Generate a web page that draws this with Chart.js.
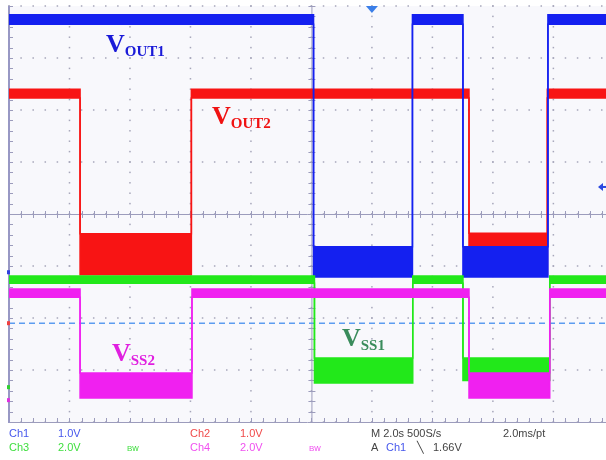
<!DOCTYPE html>
<html>
<head>
<meta charset="utf-8">
<script src="https://cdn.jsdelivr.net/npm/chart.js@4/dist/chart.umd.min.js"></script>
<style>
  html, body { margin: 0; padding: 0; background: #ffffff; }
  #wrap { position: relative; width: 606px; height: 460px; overflow: hidden; }
  canvas { position: absolute; left: 0; top: 0; }
  .lab { position: absolute; font-family: "Liberation Serif", "Times New Roman", serif; font-weight: bold; font-size: 26px; line-height: 26px; white-space: nowrap; }
  .lab .s { font-size: 15px; position: relative; top: 4px; }
  .ft { position: absolute; font-family: "Liberation Sans", Arial, sans-serif; font-size: 11px; line-height: 12px; white-space: nowrap; }
  .bw { font-size: 8px; }
</style>
</head>
<body>
<div id="wrap">
  <canvas id="c" width="606" height="460"></canvas>

  <div class="lab" style="left:106px; top:31px; color:#1a1ad8;">V<span class="s">OUT1</span></div>
  <div class="lab" style="left:212px; top:103px; color:#f01212;">V<span class="s">OUT2</span></div>
  <div class="lab" style="left:112px; top:340px; color:#e020e0;">V<span class="s">SS2</span></div>
  <div class="lab" style="left:342px; top:325px; color:#3a8c5c;">V<span class="s">SS1</span></div>

  <div class="ft" style="left:9px; top:427px; color:#4657ec;">Ch1</div>
  <div class="ft" style="left:58px; top:427px; color:#4657ec;">1.0V</div>
  <div class="ft" style="left:190px; top:427px; color:#f04a4a;">Ch2</div>
  <div class="ft" style="left:240px; top:427px; color:#f04a4a;">1.0V</div>
  <div class="ft" style="left:371px; top:427px; color:#444444;">M 2.0s 500S/s</div>
  <div class="ft" style="left:503px; top:427px; color:#444444;">2.0ms/pt</div>

  <div class="ft" style="left:9px; top:441px; color:#3ede3e;">Ch3</div>
  <div class="ft" style="left:58px; top:441px; color:#3ede3e;">2.0V</div>
  <div class="ft" style="left:127px; top:441px; color:#3ede3e;"><span class="bw">B</span><span class="bw" style="font-size:9px">w</span></div>
  <div class="ft" style="left:190px; top:441px; color:#f050f0;">Ch4</div>
  <div class="ft" style="left:240px; top:441px; color:#f050f0;">2.0V</div>
  <div class="ft" style="left:309px; top:441px; color:#f050f0;"><span class="bw">B</span><span class="bw" style="font-size:9px">w</span></div>
  <div class="ft" style="left:371px; top:441px; color:#444444;">A</div>
  <div class="ft" style="left:386px; top:441px; color:#4657ec;">Ch1</div>
  <div class="ft" style="left:417px; top:441px; color:#444444;">&#x2572;</div>
  <div class="ft" style="left:433px; top:441px; color:#444444;">1.66V</div>
</div>

<script>
// ---- Data (time in s at 2.0 s/div, level in screen divisions 0..8 from bottom) ----
const xMax = 19.74;           // visible time span
const divTime = 2;            // seconds per horizontal division
const yDivs = 8;              // vertical divisions

// Ch1 (blue, VOUT1)
const ch1Times = [0, 10.07, 10.07, 13.34, 13.34, 15.01, 15.01, 17.82, 17.82, 19.74];
const ch1Upper = [7.83, 7.83, 3.37, 3.37, 7.83, 7.83, 3.37, 3.37, 7.83, 7.83];
const ch1Lower = [7.65, 7.65, 2.79, 2.79, 7.65, 7.65, 2.79, 2.79, 7.65, 7.65];

// Ch2 (red, VOUT2)
const ch2Times = [0, 2.35, 2.35, 6.03, 6.03, 15.21, 15.21, 17.80, 17.80, 19.74];
const ch2Upper = [6.40, 6.40, 3.62, 3.62, 6.40, 6.40, 3.63, 3.63, 6.40, 6.40];
const ch2Lower = [6.23, 6.23, 2.83, 2.83, 6.23, 6.23, 2.83, 2.83, 6.23, 6.23];

// Ch3 (green, VSS1)
const ch3Times = [0, 10.10, 10.10, 13.35, 13.35, 15.01, 15.01, 17.88, 17.88, 19.74];
const ch3Upper = [2.81, 2.81, 1.23, 1.23, 2.81, 2.81, 1.23, 1.23, 2.81, 2.81];
const ch3Lower = [2.67, 2.67, 0.75, 0.75, 2.67, 2.67, 0.80, 0.80, 2.67, 2.67];

// Ch4 (magenta, VSS2)
const ch4Times = [0, 2.35, 2.35, 6.05, 6.05, 15.21, 15.21, 17.88, 17.88, 19.74];
const ch4Upper = [2.56, 2.56, 0.94, 0.94, 2.56, 2.56, 0.94, 0.94, 2.56, 2.56];
const ch4Lower = [2.40, 2.40, 0.46, 0.46, 2.40, 2.40, 0.46, 0.46, 2.40, 2.40];

// Trigger level cursor (dashed) and markers
const trigLevel = 1.90;
const trigTime = 12;
const ch1RefLevel = 4.52;
const groundMarks = [
  { level: 2.88, color: '#3040e0' },
  { level: 1.90, color: '#f04040' },
  { level: 0.67, color: '#30d030' },
  { level: 0.42, color: '#e030e0' }
];

const colors = { ch1: '#1420f0', ch2: '#f81414', ch3: '#22e81a', ch4: '#f020f0' };

function pts(times, vals) { return times.map((t, i) => ({ x: t, y: vals[i] })); }

function band(times, upper, lower, color, idx) {
  return [
    { data: pts(times, upper), borderColor: color, borderWidth: 1.5, pointRadius: 0, fill: false },
    { data: pts(times, lower), borderColor: color, backgroundColor: color, borderWidth: 1.5, pointRadius: 0, fill: idx }
  ];
}

const datasets = [
  ...band(ch4Times, ch4Upper, ch4Lower, colors.ch4, 0),
  ...band(ch3Times, ch3Upper, ch3Lower, colors.ch3, 2),
  ...band(ch1Times, ch1Upper, ch1Lower, colors.ch1, 4),
  ...band(ch2Times, ch2Upper, ch2Lower, colors.ch2, 6),
  { data: [{ x: 0, y: trigLevel }, { x: xMax, y: trigLevel }], borderColor: '#5c9cf0', borderWidth: 1.6,
    borderDash: [6, 4], pointRadius: 0, fill: false }
];

const scopeGrid = {
  id: 'scopeGrid',
  beforeDatasetsDraw(chart) {
    const { ctx, chartArea: a, scales: { x, y } } = chart;
    ctx.save();
    ctx.fillStyle = '#f8f8fc';
    ctx.fillRect(a.left, a.top, a.right - a.left, a.bottom - a.top);

    // dotted graticule
    ctx.fillStyle = '#a6a6ba';
    const nx = Math.floor(xMax / divTime);
    for (let i = 0; i <= nx; i++) {
      const px = x.getPixelForValue(i * divTime);
      for (let k = 0; k <= yDivs * 5; k++) {
        const py = y.getPixelForValue(k / 5);
        ctx.fillRect(px - 0.75, py - 0.75, 1.5, 1.5);
      }
    }
    for (let j = 0; j <= yDivs; j++) {
      const py = y.getPixelForValue(j);
      for (let k = 0; k * divTime / 5 <= xMax; k++) {
        const px = x.getPixelForValue(k * divTime / 5);
        ctx.fillRect(px - 0.75, py - 0.75, 1.5, 1.5);
      }
    }

    // center cross and frame with minor ticks
    ctx.strokeStyle = '#9c9cbc';
    ctx.lineWidth = 1;
    const cy = y.getPixelForValue(yDivs / 2);
    const cx = x.getPixelForValue(5 * divTime);
    const by = y.getPixelForValue(0);
    const lx = x.getPixelForValue(0);
    ctx.beginPath();
    ctx.moveTo(a.left, cy + 0.5); ctx.lineTo(a.right, cy + 0.5);
    ctx.moveTo(cx + 0.5, a.top); ctx.lineTo(cx + 0.5, a.bottom);
    ctx.moveTo(a.left, by + 0.5); ctx.lineTo(a.right, by + 0.5);
    for (let k = 0; k * divTime / 5 <= xMax; k++) {
      const px = Math.round(x.getPixelForValue(k * divTime / 5)) + 0.5;
      ctx.moveTo(px, cy - 3); ctx.lineTo(px, cy + 4);
      ctx.moveTo(px, by - 4); ctx.lineTo(px, by);
    }
    for (let k = 0; k <= yDivs * 5; k++) {
      const py = Math.round(y.getPixelForValue(k / 5)) + 0.5;
      ctx.moveTo(cx - 3, py); ctx.lineTo(cx + 4, py);
      ctx.moveTo(lx, py); ctx.lineTo(lx + 4, py);
    }
    ctx.stroke();
    ctx.lineWidth = 2;
    ctx.strokeStyle = '#9898c4';
    ctx.beginPath();
    ctx.moveTo(lx, a.top); ctx.lineTo(lx, a.bottom + 1);
    ctx.stroke();
    ctx.restore();
  },
  afterDatasetsDraw(chart) {
    const { ctx, chartArea: a, scales: { x, y } } = chart;
    ctx.save();
    // trigger position marker
    const tx = x.getPixelForValue(trigTime);
    ctx.fillStyle = '#3a7ee8';
    ctx.beginPath();
    ctx.moveTo(tx - 6, a.top); ctx.lineTo(tx + 6, a.top); ctx.lineTo(tx, a.top + 7); ctx.closePath();
    ctx.fill();
    // ch1 level arrow at right
    const ry = y.getPixelForValue(ch1RefLevel);
    ctx.fillStyle = '#2a48e0';
    ctx.beginPath();
    ctx.moveTo(a.right - 8, ry); ctx.lineTo(a.right - 3, ry - 4); ctx.lineTo(a.right - 3, ry + 4); ctx.closePath();
    ctx.fill();
    ctx.fillRect(a.right - 4, ry - 1, 4, 2);
    // channel ground markers on the left edge
    groundMarks.forEach(m => {
      const py = y.getPixelForValue(m.level);
      ctx.fillStyle = m.color;
      ctx.fillRect(a.left - 2, py - 2, 3, 4);
    });
    ctx.restore();
  }
};

new Chart(document.getElementById('c'), {
  type: 'line',
  data: { datasets },
  options: {
    responsive: false,
    animation: false,
    events: [],
    layout: { padding: { left: 9, right: 0, top: 6, bottom: 38 } },
    scales: {
      x: { type: 'linear', min: 0, max: xMax, display: false },
      y: { type: 'linear', min: 0, max: yDivs, display: false }
    },
    elements: { line: { tension: 0 } },
    plugins: { legend: { display: false }, tooltip: { enabled: false } }
  },
  plugins: [scopeGrid]
});
</script>
</body>
</html>
